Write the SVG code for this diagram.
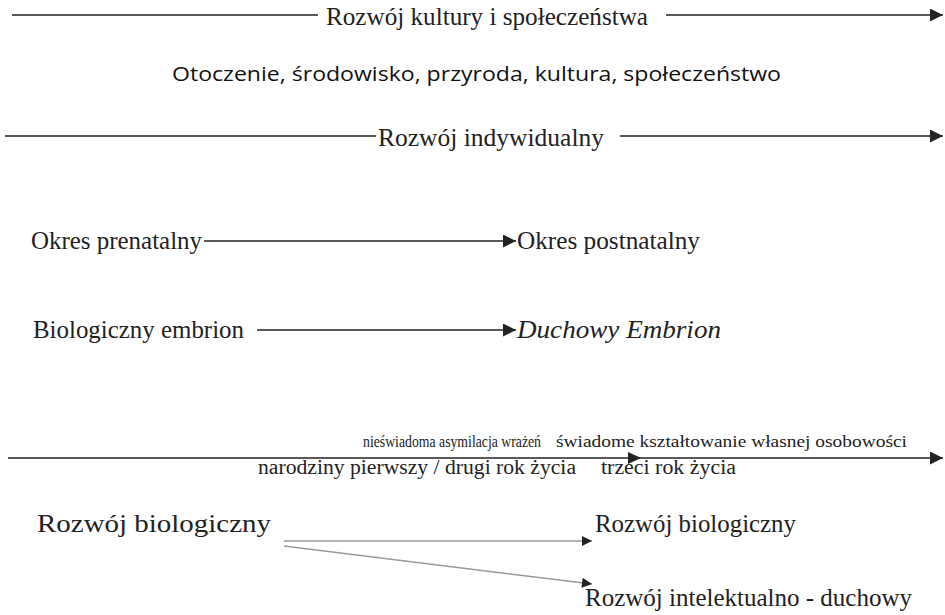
<svg xmlns="http://www.w3.org/2000/svg" width="945" height="615" viewBox="0 0 945 615">
<defs>
<marker id="ah" viewBox="0 0 10 10" refX="10" refY="5" markerWidth="11" markerHeight="10" markerUnits="userSpaceOnUse" orient="auto">
<path d="M0,0 L10,5 L0,10 z" fill="#222"/>
</marker>
<marker id="ahb" viewBox="0 0 10 10" refX="10" refY="5" markerWidth="14" markerHeight="13" markerUnits="userSpaceOnUse" orient="auto">
<path d="M0,0 L10,5 L0,10 z" fill="#222"/>
</marker>
</defs>
<style>
.s{font-family:"Liberation Serif","Times New Roman",serif;fill:#222}
.n{font-family:"Open Sans","Liberation Sans",sans-serif;fill:#111}
.l{stroke:#222;stroke-width:1.5;fill:none}
.g{stroke:#999;stroke-width:1.5;fill:none}
</style>
<rect width="945" height="615" fill="#fff"/>
<g id="connectors">
<line class="l" x1="12" y1="15" x2="318" y2="15"/>
<line class="l" x1="666" y1="15" x2="943" y2="15" marker-end="url(#ahb)"/>
<line class="l" x1="5" y1="136" x2="376" y2="136"/>
<line class="l" x1="620" y1="136" x2="943" y2="136" marker-end="url(#ahb)"/>
<line class="l" x1="204" y1="241" x2="516" y2="241" marker-end="url(#ahb)"/>
<line class="l" x1="257" y1="330" x2="516" y2="330" marker-end="url(#ahb)"/>
<line class="l" x1="8" y1="458" x2="943" y2="458" marker-end="url(#ahb)"/>
<path d="M628,452 L641,458 L628,464 z" fill="#222"/>
<line class="g" x1="284" y1="541" x2="592" y2="541" marker-end="url(#ah)"/>
<line class="g" x1="284" y1="546" x2="592" y2="584" marker-end="url(#ah)"/>
</g>
<g id="n1"><text class="s" x="326" y="25" font-size="25" textLength="322" lengthAdjust="spacingAndGlyphs">Rozwój kultury i społeczeństwa</text></g>
<g id="n2"><text class="n" x="172" y="81" font-size="20" textLength="609" lengthAdjust="spacingAndGlyphs">Otoczenie, środowisko, przyroda, kultura, społeczeństwo</text></g>
<g id="n3"><text class="s" x="378" y="146" font-size="25" textLength="226" lengthAdjust="spacingAndGlyphs">Rozwój indywidualny</text></g>
<g id="n4"><text class="s" x="31" y="249" font-size="25" textLength="171" lengthAdjust="spacingAndGlyphs">Okres prenatalny</text></g>
<g id="n5"><text class="s" x="517" y="249" font-size="25" textLength="183" lengthAdjust="spacingAndGlyphs">Okres postnatalny</text></g>
<g id="n6"><text class="s" x="33" y="338" font-size="25" textLength="211" lengthAdjust="spacingAndGlyphs">Biologiczny embrion</text></g>
<g id="n7"><text class="s" x="517" y="338" font-size="25" font-style="italic" textLength="204" lengthAdjust="spacingAndGlyphs">Duchowy Embrion</text></g>
<g id="n8"><text class="s" x="363" y="447" font-size="16" textLength="178" lengthAdjust="spacingAndGlyphs">nieświadoma asymilacja wrażeń</text></g>
<g id="n9"><text class="s" x="556" y="447" font-size="16" textLength="351" lengthAdjust="spacingAndGlyphs">świadome kształtowanie własnej osobowości</text></g>
<g id="n10"><text class="s" x="258" y="474" font-size="20" textLength="318" lengthAdjust="spacingAndGlyphs">narodziny  pierwszy / drugi rok życia</text></g>
<g id="n11"><text class="s" x="601" y="474" font-size="20" textLength="135" lengthAdjust="spacingAndGlyphs">trzeci rok życia</text></g>
<g id="n12"><text class="s" x="37" y="532" font-size="25" textLength="234" lengthAdjust="spacingAndGlyphs">Rozwój biologiczny</text></g>
<g id="n13"><text class="s" x="595" y="532" font-size="25" textLength="201" lengthAdjust="spacingAndGlyphs">Rozwój biologiczny</text></g>
<g id="n14"><text class="s" x="585" y="606" font-size="25" textLength="327" lengthAdjust="spacingAndGlyphs">Rozwój intelektualno - duchowy</text></g>
</svg>
